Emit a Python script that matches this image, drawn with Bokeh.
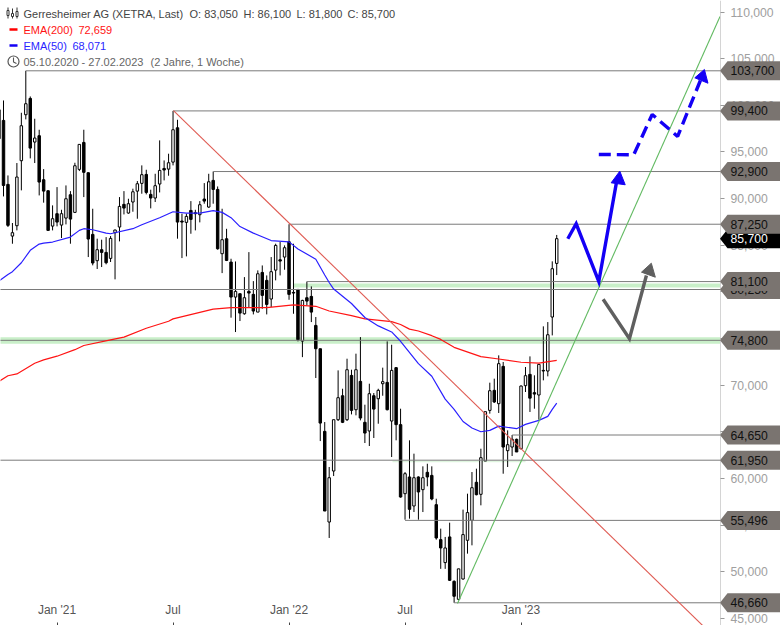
from bokeh.plotting import figure
from bokeh.embed import file_html
from bokeh.resources import INLINE
from bokeh.models import Range1d, FixedTicker, Label, PolyAnnotation
from bokeh.core.properties import value

high = [100.17,100.52,92.48,87.38,93.81,99.2,103.7,100.95,98.56,97.38,93.16,90.88,89.27,91.23,88.8,91.41,90.8,93.84,95.81,97.38,
 92.81,88.91,85.7,85.59,85.87,85.98,86.66,90.16,90.8,89.98,91.06,91.88,93.56,93.09,90.95,92.66,96.24,94.09,94.81,99.4,
 98.45,88.38,88.38,89.73,88.8,89.73,91.66,92.66,92.9,91.3,88.91,86.76,83.55,83.26,79.8,81.58,84.26,81.15,82.3,82.83,
 81.76,83.73,85.16,85.34,84.98,87.25,85.16,80.26,79.15,81.1,80.58,77.3,73.9,66.04,61.22,66.29,71.58,69.61,72.83,71.65,
 73.37,75.15,67.9,70.15,69.15,69.61,71.87,74.69,74.33,71.94,67.47,60.68,64.08,62.65,60.22,61.29,61.57,61.29,57.82,54.61,
 53.72,55.25,49.07,50.3,56.65,58.36,60.68,61.04,63.18,67.15,70.26,70.69,73.19,72.48,65.15,64.65,64.26,69.97,71.94,73.08,
 71.05,72.22,76.3,76.76,83.27,86.1]
low = [96.06,90.23,86.95,85.16,86.59,90.88,98.49,94.31,93.81,90.34,89.56,86.59,86.59,87.02,85.77,87.23,85.16,88.45,92.95,90.16,
 83.73,82.84,82.45,82.66,82.95,83.2,81.34,85.41,88.3,88.38,88.59,87.84,90.52,90.45,88.95,89.63,90.66,91.95,92.45,93.56,
 85.7,83.62,83.8,86.23,86.59,87.45,89.45,89.02,89.45,84.52,82.01,83.3,77.23,75.69,76.87,77.55,78.37,77.58,77.83,78.19,
 77.58,78.37,81.23,81.76,82.37,79.15,77.65,74.69,73.0,78.55,76.76,70.76,64.0,56.5,53.61,60.25,66.15,65.93,66.15,66.86,
 66.76,66.22,63.79,63.47,64.33,65.86,68.86,67.29,62.29,64.08,57.93,55.57,55.68,56.39,55.57,56.39,59.15,57.65,53.43,50.3,
 50.3,49.0,46.66,46.93,49.14,51.93,52.82,58.18,57.11,61.86,66.94,68.08,67.01,60.5,61.22,62.4,62.83,63.11,69.26,67.12,
 67.47,66.29,70.51,70.94,75.33,81.8]
body_top = [99.52,98.38,91.52,86.34,92.31,97.81,100.17,100.74,96.49,96.74,92.02,90.84,87.84,88.38,88.38,89.98,90.41,93.52,95.81,96.02,
 92.77,86.16,84.52,84.52,84.23,85.73,86.63,89.16,89.38,89.45,90.73,91.59,92.56,92.59,90.45,91.38,93.02,93.23,93.84,97.38,
 97.59,87.59,88.09,88.73,88.48,89.34,89.95,91.8,91.95,90.98,85.59,85.69,83.19,80.05,79.8,79.37,80.05,79.73,81.94,82.08,
 81.23,82.16,84.98,83.44,84.73,85.37,79.94,80.26,79.08,79.37,79.51,76.4,73.9,65.04,60.07,66.29,68.65,68.86,71.65,71.04,
 71.65,70.4,66.01,69.08,68.86,69.44,70.37,70.29,71.58,71.87,65.76,60.5,60.15,60.07,60.15,60.07,60.65,60.32,57.18,53.43,
 52.54,53.72,48.96,50.3,53.97,56.33,59.0,59.58,62.22,67.15,69.4,69.44,72.3,72.01,63.61,64.19,64.19,69.9,71.01,71.15,
 69.19,72.22,71.58,75.4,82.48,85.7]
body_bot = [96.42,91.41,87.13,85.98,87.09,94.06,98.99,95.41,96.06,91.77,90.8,86.59,87.05,87.48,87.16,87.91,87.8,88.52,93.13,92.81,
 85.66,83.09,83.34,84.23,83.12,83.59,86.34,86.95,88.98,88.45,89.63,90.8,91.63,90.66,90.06,90.06,91.56,93.06,93.16,93.91,
 87.48,87.48,87.45,87.77,88.38,88.27,89.73,89.09,90.98,84.62,84.09,83.37,79.44,79.44,77.72,77.65,79.87,77.94,77.83,79.62,
 78.65,79.23,82.33,83.3,83.73,79.73,79.87,74.87,74.72,79.01,77.83,73.9,65.93,56.5,55.32,60.79,66.29,66.01,66.29,67.29,
 67.36,66.47,64.86,65.08,67.43,68.54,70.15,67.36,66.15,65.76,58.0,58.36,56.68,57.04,58.54,58.79,60.15,57.79,53.61,52.54,
 50.97,49.07,47.36,47.03,49.21,53.36,55.5,58.25,58.29,61.86,67.29,68.19,68.01,63.36,62.97,63.36,62.83,63.18,69.94,68.6,
 69.04,68.94,71.51,71.51,77.3,83.05]
rising = [0,3,4,5,6,8,12,14,15,17,18,22,25,26,27,29,30,31,32,35,36,38,39,42,45,47,50,53,55,58,61,62,64,68,74,75,76,78,80,83,85,86,88,
 91,93,95,100,103,104,105,106,108,109,110,112,114,115,117,118,121,123,124,125]

ema200_k = [0,2,4,8,10,13,17,19,25,28,33,38,39,48,52,60,66,71,74,79,82,88,90,92,94,97,99,102,108,112,117,121,125]
ema200 = [70.4,71.0,71.2,72.35,72.7,73.1,73.8,74.25,74.85,75.15,76.1,76.85,77.1,78.15,78.3,78.3,78.6,78.45,77.95,77.45,77.1,76.8,76.5,76.0,75.8,75.3,74.9,74.05,73.05,72.8,72.45,72.35,72.66]
ema50_k = [0,2,3,5,7,9,10,12,16,18,19,21,24,25,30,32,36,39,42,45,48,50,52,54,57,61,65,67,71,73,74,75,79,82,85,88,90,94,97,100,102,104,106,108,110,112,116,118,121,123,124,125]
ema50 = [81.16,81.87,82.16,83.12,84.45,85.12,85.23,85.34,85.87,86.59,86.77,86.66,86.3,86.23,86.77,87.2,87.95,88.59,88.45,88.45,88.7,88.52,87.95,87.0,86.3,85.5,85.36,84.6,83.5,81.8,81.0,80.3,78.75,77.25,76.35,75.7,74.7,72.3,70.95,68.5,67.4,66.1,65.4,65.0,65.15,65.6,65.33,65.79,66.22,66.65,67.4,68.07]

levels = [103.7,99.4,92.9,87.25,80.25,81.1,74.8,64.65,61.95,55.496,46.66]
level_start = [6,39,48,65,0,69,0,115,0,91,102]
level_labels = ["103,700","99,400","92,900","87,250","80,250","81,100","74,800","64,650","61,950","55,496","46,660"]
last_close = 85.7
last_label = "85,700"

y_ticks = [45,50,55,60,65,70,75,80,85,90,95,100,105,110]
y_tick_labels = ["45,000","50,000","55,000","60,000","65,000","70,000","75,000","80,000","85,000","90,000","95,000","100,000","105,000","110,000"]
x_ticks = [13,39,65,91,117]
x_tick_labels = ["Jan '21","Jul","Jan '22","Jul","Jan '23"]

green_k = [102.76,161.6]; green_v = [46.58,109.52]
red_k = [39.1,157.7]; red_v = [99.44,44.23]
solid_k = [127.48,129.36,134.43,138.4]; solid_v = [85.69,87.3,81.11,91.76]
solid_head_k = [139.14,137.2,140.35]; solid_head_v = [92.94,91.69,91.48]
gray_k = [135.4,141.3,145.1]; gray_v = [79.21,74.97,81.75]
gray_head_k = [146.2,144.0,147.1]; gray_head_v = [83.07,82.11,81.57]
dash_k = [134.43,142.27,146.4,152.1,157.2]; dash_v = [94.73,94.7,99.02,96.66,102.66]
dash_head_k = [158.1,155.95,158.9]; dash_head_v = [103.84,102.95,102.37]

PX_PER_WEEK = 4.4615
PX_PER_UNIT = 1 / 0.10722
def X(px): return (px - 3) / PX_PER_WEEK + 1
def Y(py): return 111.238 - py / PX_PER_UNIT

p = figure(frame_width=780, frame_height=625, output_backend="svg", toolbar_location=None,
           x_range=Range1d(X(0), X(780)), y_range=Range1d(Y(625), Y(0)),
           y_axis_location="right", min_border=0, min_border_left=0, min_border_right=0,
           min_border_top=0, min_border_bottom=0, outline_line_color=None,
           background_fill_color="white", border_fill_color="white")
p.margin = (0, -60, 0, 0)
p.grid.visible = False

ya = p.yaxis[0]
ya.fixed_location = X(720)
ya.ticker = FixedTicker(ticks=y_ticks)
ya.major_label_overrides = dict(zip(y_ticks, y_tick_labels))
ya.axis_line_color = "#d4d4d4"
ya.major_tick_line_color = "#999999"
ya.major_tick_out = 4
ya.major_tick_in = 0
ya.major_label_standoff = 6
ya.major_label_text_color = "#a0a0a0"
ya.major_label_text_font = "Liberation Sans"
ya.major_label_text_font_size = "12.2px"
ya.minor_tick_line_color = None

xa = p.xaxis[0]
xa.ticker = FixedTicker(ticks=x_ticks)
xa.major_label_overrides = dict(zip(x_ticks, x_tick_labels))
xa.axis_line_color = None
xa.major_tick_line_color = "#444444"
xa.major_tick_in = 3
xa.major_tick_out = 0
xa.minor_tick_line_color = None
xa.major_label_standoff = -23
xa.major_label_text_color = "#555555"
xa.major_label_text_font = "Liberation Sans"
xa.major_label_text_font_size = "12px"

# green zones
band_left = [X(293), X(-5), X(392)]
band_right = [X(720), X(720), X(525)]
band_bottom = [80.47, 74.43, 61.72]
band_top = [80.9, 75.14, 61.9]
band_alpha = [1, 1, 0.6]
p.quad(left=band_left, right=band_right, bottom=band_bottom, top=band_top,
       fill_color="#c9efc9", fill_alpha=band_alpha, line_color=None)

# candles
n = len(high)
ks = list(range(n))
fill = ["white" if k in rising else "black" for k in ks]
p.segment(ks, high, ks, low, line_color="black", line_width=1)
p.vbar(x=ks, width=0.55, top=body_top, bottom=body_bot, fill_color=fill, line_color="black", line_width=1)

# levels
p.segment([max(s, X(-2)) for s in level_start], levels, [X(720)] * len(levels), levels, line_color="#7a7a7a", line_width=1)

# emas
p.line(ema200_k, ema200, line_color="#ff1414", line_width=1.2)
p.line(ema50_k, ema50, line_color="#2a1fff", line_width=1.2)

# trend lines
p.line(red_k, red_v, line_color="#df5a52", line_width=1.1)
p.line(green_k, green_v, line_color="#62ba62", line_width=1.1)

# arrows
BLUE = "#1400f5"
GRAY = "#5f5f5f"
p.line(solid_k, solid_v, line_color=BLUE, line_width=3.4, line_join="miter")
p.patch(solid_head_k, solid_head_v, fill_color=BLUE, line_color=BLUE)
p.line(gray_k, gray_v, line_color=GRAY, line_width=3.4, line_join="miter")
p.patch(gray_head_k, gray_head_v, fill_color=GRAY, line_color=GRAY)
p.line(dash_k, dash_v, line_color=BLUE, line_width=3.4, line_dash="12 6")
p.patch(dash_head_k, dash_head_v, fill_color=BLUE, line_color=BLUE)

# legend
leg_x = [23,189,243,296,347,23,78,23,72,23,150]
leg_y = [13,13,13,13,13,29,29,45,45,61,61]
leg_t = ["Gerresheimer AG (XETRA, Last)","O: 83,050","H: 86,100","L: 81,800","C: 85,700",
         "EMA(200)","72,659","EMA(50)","68,071","05.10.2020 - 27.02.2023","(2 Jahre, 1 Woche)"]
leg_c = ["#444444"]*5 + ["#ff1414"]*2 + ["#2a1fff"]*2 + ["#666666"]*2
p.text([X(v) for v in leg_x], [Y(v) for v in leg_y], text=leg_t, text_color=leg_c,
       text_font=value("Liberation Sans"), text_font_size="11px", text_baseline="middle")
p.quad(left=[X(9),X(9)], right=[X(17),X(17)], top=[Y(27.7),Y(43.7)], bottom=[Y(30.3),Y(46.3)],
       fill_color=["#ff0000","#1400f5"], line_color=None)
# header icon
p.segment([X(7.5),X(12),X(16.5)], [Y(7),Y(8),Y(7)], [X(7.5),X(12),X(16.5)], [Y(18),Y(18),Y(18)], line_color="#333333")
p.quad(left=[X(6.5),X(11),X(15.5)], right=[X(8.5),X(13),X(17.5)], top=[Y(10),Y(13),Y(11)], bottom=[Y(15),Y(16),Y(16)],
       fill_color="white", line_color="#333333")
# clock
p.scatter([X(13)], [Y(61)], size=11, marker="circle", fill_color="white", line_color="#555555", line_width=1.2)
p.line([X(13),X(13),X(16)], [Y(57),Y(61.5),Y(63)], line_color="#555555", line_width=1.1)

# right tags
def tag(level, text, fill_c, text_c):
    h = 9.5 / PX_PER_UNIT
    p.add_layout(PolyAnnotation(xs=[X(719.5),X(727),X(780),X(780),X(727)],
                                ys=[level, level+h, level+h, level-h, level-h], xs_units="data", ys_units="data",
                                fill_color=fill_c, fill_alpha=1, line_color=None))
    p.add_layout(Label(x=X(730), y=level, text=text, text_color=text_c, text_font="Liberation Sans",
                       text_font_size="12.2px", text_baseline="middle", x_units="data", y_units="data"))

tag(last_close, last_label, "#000000", "#ffffff")
for lv, lb in zip(levels, level_labels):
    tag(lv, lb, "#7a7470", "#111111")

open("out.html", "w").write(file_html(p, INLINE))
